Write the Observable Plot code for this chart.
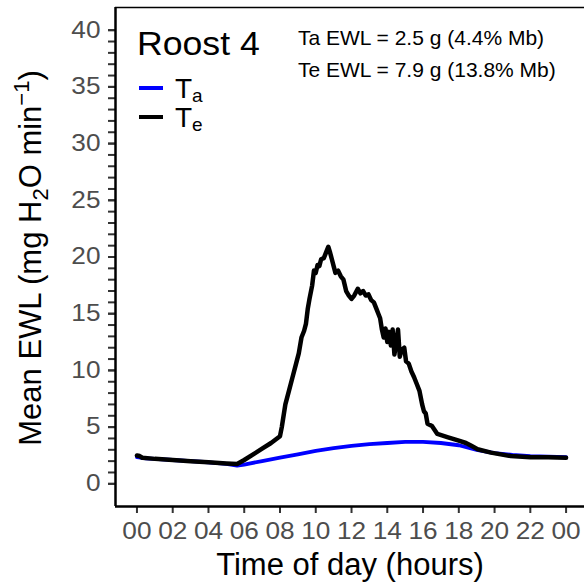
<!DOCTYPE html>
<html>
<head>
<meta charset="utf-8">
<script src="https://cdn.jsdelivr.net/npm/d3@7"></script>
<script src="https://cdn.jsdelivr.net/npm/@observablehq/plot@0.6"></script>
<style>
  html, body { margin: 0; padding: 0; background: white; }
  #chart svg { display: block; }
</style>
</head>
<body>
<div id="chart"></div>
<script>
// ---- data ----
const hoursTa = [0, 0.5, 1, 2, 3, 4, 5, 5.6, 6, 7, 8, 9, 10, 11, 12, 13, 14, 15, 16, 17, 18, 19, 20, 21, 22, 23, 24];
const valuesTa = [2.35, 2.25, 2.2, 2.1, 2.0, 1.9, 1.75, 1.6, 1.7, 2.0, 2.3, 2.6, 2.9, 3.15, 3.35, 3.5, 3.6, 3.7, 3.7, 3.6, 3.4, 3.0, 2.7, 2.55, 2.45, 2.4, 2.35];

const hoursTe = [0, 0.15, 0.3, 1, 2, 3, 4, 5, 5.6, 6, 6.5, 7, 7.5, 8.0, 8.1, 8.3, 8.5, 8.7, 8.9, 9.05, 9.2, 9.35, 9.45, 9.55, 9.65, 9.8, 9.9, 10.0, 10.1, 10.2, 10.3, 10.45, 10.55, 10.7, 10.8, 10.9, 11.0, 11.1, 11.25, 11.4, 11.55, 11.7, 11.85, 12.0, 12.15, 12.35, 12.5, 12.65, 12.8, 12.95, 13.1, 13.25, 13.4, 13.5, 13.6, 13.7, 13.8, 13.9, 14.0, 14.1, 14.2, 14.3, 14.4, 14.5, 14.6, 14.7, 14.8, 14.95, 15.05, 15.2, 15.35, 15.5, 15.65, 15.8, 15.95, 16.05, 16.15, 16.25, 16.5, 16.8, 17.4, 18.0, 18.4, 18.7, 19.05, 19.8, 20.9, 22, 23, 24];
const valuesTe = [2.5, 2.45, 2.3, 2.2, 2.1, 2.0, 1.9, 1.8, 1.75, 2.1, 2.6, 3.1, 3.6, 4.2, 5.0, 7.0, 8.2, 9.4, 10.6, 11.5, 12.9, 13.5, 14.1, 15.4, 16.3, 17.5, 18.8, 18.6, 19.3, 19.2, 19.8, 19.9, 20.3, 20.9, 20.4, 19.8, 19.2, 18.6, 18.8, 18.3, 18.0, 17.0, 16.6, 16.3, 16.6, 17.2, 16.8, 17.0, 16.6, 16.7, 16.2, 16.0, 15.4, 15.0, 14.6, 13.6, 12.9, 13.7, 12.5, 13.4, 12.2, 13.6, 11.4, 12.5, 13.6, 11.2, 11.8, 12.0, 10.8, 10.6, 9.9, 9.4, 8.8, 8.2, 7.0, 6.4, 6.2, 5.3, 5.1, 4.4, 4.1, 3.8, 3.6, 3.35, 3.05, 2.75, 2.45, 2.35, 2.35, 2.3];

const xTicks = [0, 2, 4, 6, 8, 10, 12, 14, 16, 18, 20, 22, 24];
const yTicks = [0, 5, 10, 15, 20, 25, 30, 35, 40];
const yMinorTicks = d3.range(0, 41, 1);

const roostTitle = "Roost 4";
const annotations = ["Ta EWL = 2.5 g (4.4% Mb)", "Te EWL = 7.9 g (13.8% Mb)"];

const ta = hoursTa.map((h, i) => ({hour: h, ewl: valuesTa[i]}));
const te = hoursTe.map((h, i) => ({hour: h, ewl: valuesTe[i]}));

const FONT = "'Liberation Sans', Arial, Helvetica, sans-serif";
const xDomain = [-1.2, 25.03];
const yDomain = [-2, 42];

const chart = Plot.plot({
  width: 584,
  height: 585,
  marginLeft: 115,
  marginRight: 0,
  marginTop: 7,
  marginBottom: 79,
  x: {domain: xDomain},
  y: {domain: yDomain},
  style: {fontFamily: FONT, background: "white", overflow: "visible"},
  marks: [
    Plot.axisY({ticks: yMinorTicks, tickSize: 7, text: null, label: null, stroke: "#333", strokeWidth: 2}),
    Plot.axisY({ticks: yTicks, tickSize: 7, tickPadding: 8, fontSize: 23, label: null,
      stroke: "#333", strokeWidth: 2, fill: "#4d4d4d"}),
    Plot.axisX({ticks: xTicks, tickSize: 7, tickPadding: 9, fontSize: 23, label: null,
      stroke: "#333", strokeWidth: 2, fill: "#4d4d4d",
      tickFormat: d => String(d % 24).padStart(2, "0")}),
    Plot.ruleX([xDomain[0]], {stroke: "black", strokeWidth: 2.5}),
    Plot.ruleY([yDomain[0]], {stroke: "black", strokeWidth: 2.5}),
    Plot.ruleY([yDomain[1]], {stroke: "black", strokeWidth: 1.5}),
    Plot.line(ta, {x: "hour", y: "ewl", stroke: "#0000ff", strokeWidth: 3.8, strokeLinejoin: "round"}),
    Plot.line(te, {x: "hour", y: "ewl", stroke: "black", strokeWidth: 4.5, strokeLinejoin: "round"})
  ]
});

document.getElementById("chart").appendChild(chart);

// widen tick labels slightly to match the reference's wide digits
d3.select(chart).selectAll("g[aria-label='x-axis tick label'] text, g[aria-label='y-axis tick label'] text")
  .each(function() {
    const t = this.getAttribute("transform") || "";
    this.setAttribute("transform", t + " scale(1.14,1)");
  });

// ---- legend, annotations and axis titles (with sub/superscripts) ----
const svg = d3.select(chart);
const g = svg.append("g").attr("font-family", FONT).attr("text-anchor", "start");

g.append("text").attr("transform", "translate(137,55) scale(1.08,1)").attr("font-size", 33)
  .attr("fill", "black").text(roostTitle);

const legendItems = [
  {color: "#0000ff", sub: "a", y: 88},
  {color: "black", sub: "e", y: 117}
];
legendItems.forEach(it => {
  g.append("line").attr("x1", 139).attr("x2", 163).attr("y1", it.y).attr("y2", it.y)
    .attr("stroke", it.color).attr("stroke-width", 4);
  const t = g.append("text").attr("x", 175).attr("y", it.y + 10).attr("font-size", 28).attr("fill", "black");
  t.append("tspan").text("T");
  t.append("tspan").attr("font-size", 19).attr("dy", 4).text(it.sub);
});

annotations.forEach((s, i) => {
  g.append("text").attr("x", 298).attr("y", 45 + i * 32).attr("font-size", 21).attr("fill", "black").text(s);
});

// x title
g.append("text").attr("x", 350).attr("y", 575).attr("text-anchor", "middle")
  .attr("font-size", 31).attr("fill", "black").text("Time of day (hours)");

// y title
const yt = g.append("text").attr("transform", "translate(41,258) rotate(-90)")
  .attr("text-anchor", "middle").attr("font-size", 31).attr("fill", "black");
yt.append("tspan").text("Mean EWL (mg H");
yt.append("tspan").attr("font-size", 22).attr("dy", 7).text("2");
yt.append("tspan").attr("dy", -7).text("O min");
yt.append("tspan").attr("font-size", 22).attr("dy", -12).text("\u22121");
yt.append("tspan").attr("dy", 12).text(")");
</script>
</body>
</html>
